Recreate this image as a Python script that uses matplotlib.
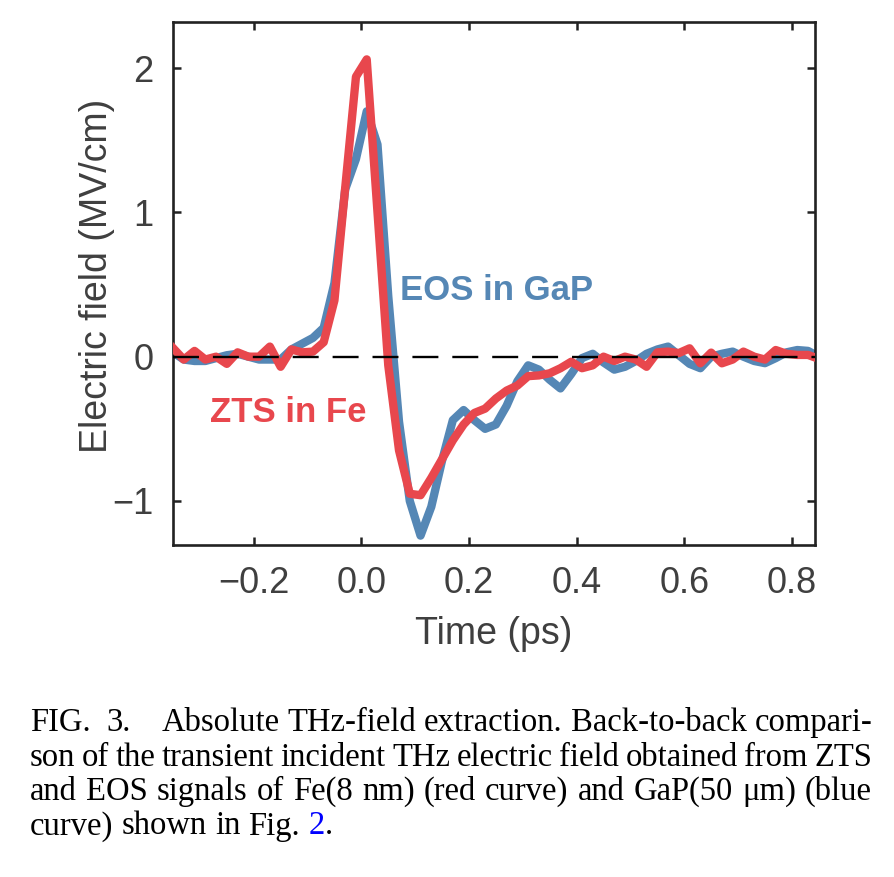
import matplotlib
matplotlib.use("Agg")
import matplotlib.pyplot as plt

# time axis (ps), one sample every 0.02 ps
time_ps = [-0.35, -0.33, -0.31, -0.29, -0.27, -0.25, -0.23, -0.21, -0.19, -0.17,
           -0.15, -0.13, -0.11, -0.09, -0.07, -0.05, -0.03, -0.01,
           0.01, 0.03, 0.05, 0.07, 0.09, 0.11, 0.13, 0.15, 0.17, 0.19,
           0.21, 0.23, 0.25, 0.27, 0.29, 0.31, 0.33, 0.35, 0.37, 0.39,
           0.41, 0.43, 0.45, 0.47, 0.49, 0.51, 0.53, 0.55, 0.57, 0.59,
           0.61, 0.63, 0.65, 0.67, 0.69, 0.71, 0.73, 0.75, 0.77, 0.79,
           0.81, 0.83, 0.85]

# EOS in GaP (blue curve), MV/cm
eos_gap = [0.03, -0.02, -0.03, -0.03, -0.01, 0.01, 0.02, 0.0, -0.02, -0.02,
           -0.02, 0.05, 0.09, 0.13, 0.20, 0.51, 1.16, 1.37,
           1.70, 1.47, 0.42, -0.45, -1.00, -1.24, -1.04, -0.72, -0.44, -0.37,
           -0.44, -0.50, -0.47, -0.34, -0.17, -0.06, -0.09, -0.16, -0.22, -0.12,
           -0.01, 0.02, -0.04, -0.09, -0.07, -0.03, 0.02, 0.05, 0.07, 0.01,
           -0.05, -0.08, 0.0, 0.02, 0.035, 0.0, -0.03, -0.045, -0.01, 0.03,
           0.046, 0.04, 0.0]

# ZTS in Fe (red curve), MV/cm
zts_fe = [0.06, -0.02, 0.04, -0.02, 0.0, -0.05, 0.03, 0.0, 0.0, 0.07,
          -0.07, 0.05, 0.03, 0.035, 0.10, 0.39, 1.17, 1.94,
          2.06, 1.00, -0.06, -0.65, -0.95, -0.96, -0.84, -0.71, -0.58, -0.47,
          -0.39, -0.36, -0.29, -0.235, -0.20, -0.135, -0.13, -0.115, -0.08, -0.035,
          -0.08, -0.06, 0.0, -0.03, 0.0, -0.02, -0.07, 0.03, 0.035, 0.025,
          0.058, -0.046, 0.028, -0.046, -0.02, 0.035, 0.0, -0.02, 0.046, 0.02,
          0.012, 0.012, -0.015]

x_ticks = [-0.2, 0.0, 0.2, 0.4, 0.6, 0.8]
x_tick_labels = ['\u22120.2', '0.0', '0.2', '0.4', '0.6', '0.8']
y_ticks = [-1, 0, 1, 2]
y_tick_labels = ['\u22121', '0', '1', '2']

caption = [
    "FIG.  3.    Absolute THz-field extraction. Back-to-back compari-",
    "son of the transient incident THz electric field obtained from ZTS",
    "and EOS signals of Fe(8 nm) (red curve) and GaP(50 \u03bcm) (blue",
    "curve) shown in Fig. 2.",
]

blue = '#5587b5'
red = '#e8474d'
grey = '#3f3f3f'

plt.rcParams['font.family'] = ['Liberation Sans', 'DejaVu Sans']

W, H = 895, 877
fig = plt.figure(figsize=(W / 100, H / 100), dpi=100)
ax = fig.add_axes([173 / W, 1 - 545 / H, (815 - 173) / W, (545 - 22) / H])

ax.plot(time_ps, eos_gap, color=blue, lw=6, zorder=2)
ax.plot(time_ps, zts_fe, color=red, lw=6, zorder=3)
ax.axhline(0, color='black', lw=1.7, ls=(0, (11, 5.9)), zorder=4)

ax.set_xlim(-0.35, 0.843)
ax.set_ylim(-1.305, 2.319)
ax.set_xticks(x_ticks, x_tick_labels)
ax.set_yticks(y_ticks, y_tick_labels)
ax.tick_params(direction='in', top=True, right=True, length=5.5, width=1.8,
               labelsize=26, labelcolor=grey, color='#222222')
ax.tick_params(axis='x', pad=15)
ax.tick_params(axis='y', pad=14)
for s in ax.spines.values():
    s.set_linewidth(1.9)
    s.set_color('#222222')

ax.set_xlabel('Time (ps)', fontsize=27, color=grey, va='center')
ax.xaxis.set_label_coords(0.5, (545 - 634) / 523)
ax.set_ylabel('Electric field (MV/cm)', fontsize=27, color=grey, va='center')
ax.yaxis.set_label_coords((97 - 173) / 642, (545 - 276) / 523)

ax.text(0.072, 0.396, 'EOS in GaP', color=blue, fontsize=25, fontweight='bold',
        ha='left', va='baseline')
ax.text(-0.281, -0.456, 'ZTS in Fe', color=red, fontsize=25, fontweight='bold',
        ha='left', va='baseline')

# caption, justified word by word
renderer = fig.canvas.get_renderer()
left, right = 30, 872
baselines = [731, 765.5, 800, 834.5]
fs = 23.5
for i, line in enumerate(caption):
    words = line.split(' ')
    # extra blank tokens widen the gaps after "FIG." and "3."
    weights = []
    toks = []
    for w in words:
        if w == '':
            if weights:
                weights[-1] += 1
            continue
        toks.append(w)
        weights.append(1)
    weights = weights[:-1]
    colors = ['black'] * len(toks)
    if i == len(caption) - 1:
        toks = toks[:-1] + ['2', '.']
        colors = ['black'] * (len(toks) - 2) + ['blue', 'black']
        weights = [1] * (len(toks) - 2) + [0]
    texts = []
    for t, c in zip(toks, colors):
        texts.append(fig.text(0, 1 - baselines[i] / H, t, fontsize=fs, color=c,
                              family='Liberation Serif', va='baseline', ha='left'))
    widths = [t.get_window_extent(renderer).width for t in texts]
    if i == len(caption) - 1:
        gap = fs * 1.389 * 0.25
    else:
        gap = (right - left - sum(widths)) / sum(weights)
    x = left
    for k, t in enumerate(texts):
        t.set_x(x / W)
        x += widths[k]
        if k < len(weights):
            x += gap * weights[k]

fig.savefig('out.png', dpi=100)
